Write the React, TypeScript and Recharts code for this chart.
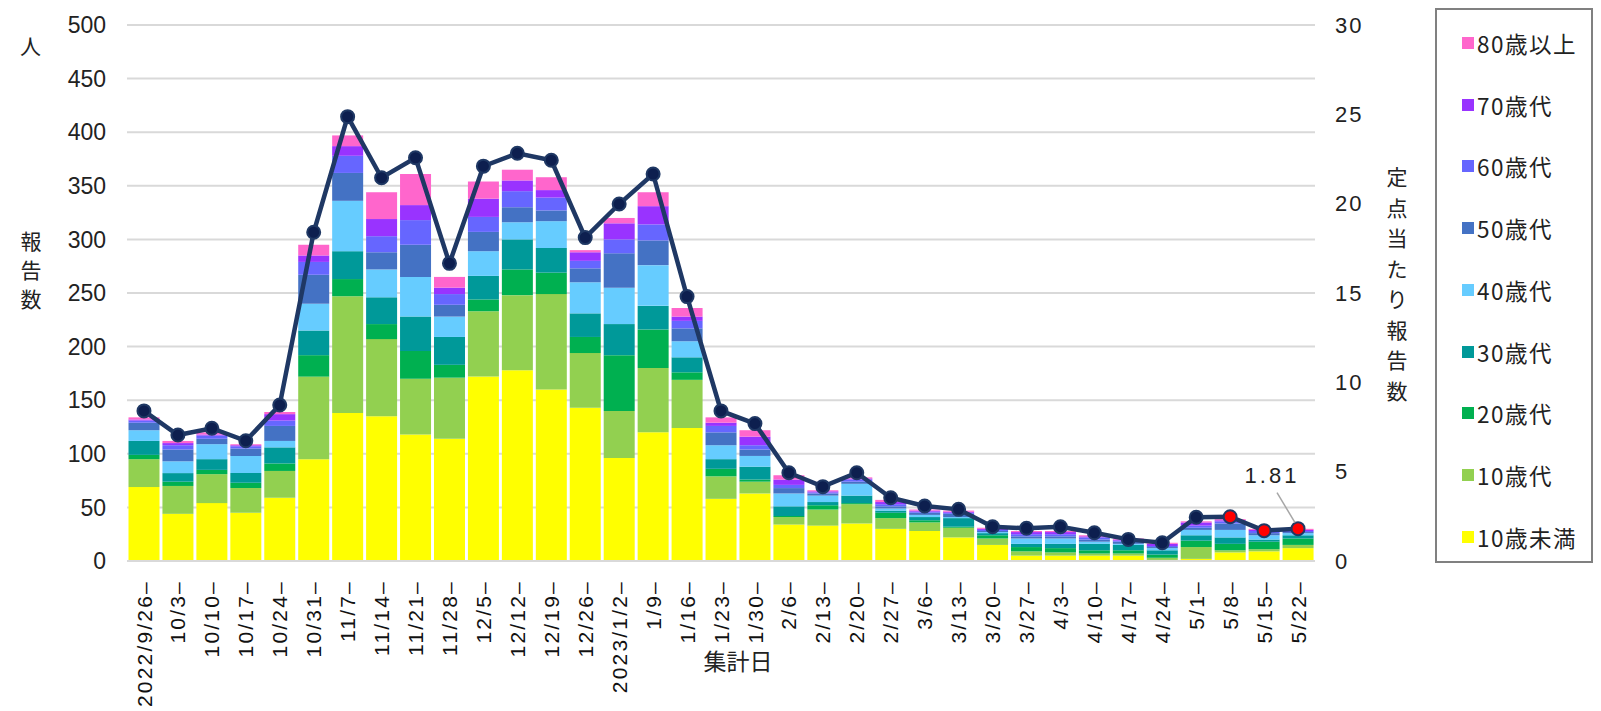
import { Bar, CartesianGrid, ComposedChart, LabelList, Line, XAxis, YAxis } from "recharts";

const dates = [
  "2022/9/26–", "10/3–", "10/10–", "10/17–", "10/24–", "10/31–", "11/7–", "11/14–", "11/21–",
  "11/28–", "12/5–", "12/12–", "12/19–", "12/26–", "2023/1/2–", "1/9–", "1/16–", "1/23–",
  "1/30–", "2/6–", "2/13–", "2/20–", "2/27–", "3/6–", "3/13–", "3/20–", "3/27–", "4/3–",
  "4/10–", "4/17–", "4/24–", "5/1–", "5/8–", "5/15–", "5/22–",
];

const under10 = [69, 44, 54, 45, 59, 95, 138, 135, 118, 114, 172, 178, 160, 143, 96, 120, 124, 58, 63, 34, 33, 35, 30, 28, 22, 15, 5, 5, 5, 5, 1, 2, 8, 9, 12];
const teens = [26, 26, 27, 23, 25, 77, 109, 72, 52, 57, 61, 70, 89, 51, 44, 60, 45, 21, 11, 7, 15, 18, 10, 8, 9, 6, 4, 3, 2, 2, 2, 11, 2, 2, 3];
const twenties = [4, 4, 4, 5, 7, 20, 16, 14, 26, 12, 11, 24, 20, 15, 52, 36, 7, 7, 2, 1, 4, 1, 5, 2, 1, 3, 4, 4, 3, 3, 3, 6, 6, 7, 6];
const thirties = [13, 8, 10, 9, 15, 23, 26, 25, 32, 26, 22, 28, 23, 22, 29, 22, 14, 9, 12, 9, 3, 7, 2, 3, 8, 2, 3, 4, 6, 5, 4, 5, 6, 2, 3];
const forties = [10, 11, 14, 16, 6, 25, 47, 26, 37, 19, 23, 16, 25, 29, 34, 38, 15, 13, 10, 12, 6, 11, 2, 2, 1, 1, 5, 5, 2, 1, 2, 5, 7, 4, 2];
const fifties = [7, 11, 5, 7, 14, 27, 26, 16, 30, 11, 18, 14, 10, 13, 32, 23, 12, 12, 6, 5, 2, 2, 2, 2, 3, 1, 2, 2, 2, 2, 1, 2, 6, 2, 1];
const sixties = [2, 4, 3, 2, 5, 12, 16, 15, 23, 10, 14, 15, 12, 7, 13, 15, 7, 6, 4, 3, 1, 2, 2, 1, 1, 1, 2, 2, 2, 1, 1, 2, 2, 2, 1];
const seventies = [1, 2, 1, 1, 6, 6, 9, 16, 14, 6, 17, 10, 7, 8, 15, 17, 4, 3, 8, 5, 1, 1, 2, 1, 1, 1, 2, 2, 1, 1, 2, 3, 1, 1, 1];
const eighties = [2, 2, 2, 1, 2, 10, 10, 25, 29, 10, 16, 10, 12, 2, 5, 13, 8, 5, 6, 4, 1, 1, 2, 1, 1, 1, 1, 1, 1, 1, 1, 1, 1, 1, 1];

// 定点当たり報告数 (right axis)
const perSentinel = [8.4, 7.05, 7.43, 6.73, 8.73, 18.4, 24.87, 21.45, 22.57, 16.66, 22.1, 22.82, 22.43, 18.1, 19.98, 21.66, 14.8, 8.4, 7.69, 4.94, 4.16, 4.94, 3.54, 3.08, 2.89, 1.92, 1.83, 1.92, 1.58, 1.21, 1.02, 2.45, 2.48, 1.7, 1.81];

const leftTicks = [0, 50, 100, 150, 200, 250, 300, 350, 400, 450, 500];
const rightTicks = [0, 5, 10, 15, 20, 25, 30];

const groups = [
  { key: "u10", name: "10歳未満", color: "#FFFF00", values: under10 },
  { key: "a10", name: "10歳代", color: "#92D050", values: teens },
  { key: "a20", name: "20歳代", color: "#00B050", values: twenties },
  { key: "a30", name: "30歳代", color: "#009999", values: thirties },
  { key: "a40", name: "40歳代", color: "#66CCFF", values: forties },
  { key: "a50", name: "50歳代", color: "#4472C4", values: fifties },
  { key: "a60", name: "60歳代", color: "#6666FF", values: sixties },
  { key: "a70", name: "70歳代", color: "#9933FF", values: seventies },
  { key: "a80", name: "80歳以上", color: "#FF66CC", values: eighties },
];

const data = dates.map((date, i) => {
  const row: any = { date, rate: perSentinel[i] };
  groups.forEach((g) => (row[g.key] = g.values[i]));
  return row;
});

const numFont = "'Liberation Sans', Arial, sans-serif";
const jpFont = "'Noto Sans CJK JP', sans-serif";

function DateTick({ x, y, payload }: any) {
  return (
    <g transform={`translate(${x},${y})`}>
      <text
        transform="rotate(-90)"
        textAnchor="end"
        dy="0.36em"
        fontSize={21}
        fontFamily={numFont}
        fill="#111"
        style={{ letterSpacing: "2.2px" }}
      >
        {payload.value}
      </text>
    </g>
  );
}

function RateDot(props: any) {
  const { cx, cy, index } = props;
  const red = index >= 32;
  return (
    <circle
      key={"dot-" + index}
      cx={cx}
      cy={cy}
      r={6.5}
      fill={red ? "#FF0000" : "#0D1F4F"}
      stroke="#1F3864"
      strokeWidth={2}
    />
  );
}

function LastLabel(props: any) {
  const { x, y, index, value } = props;
  if (index !== dates.length - 1) return null;
  return (
    <g>
      <line x1={x - 21} y1={y - 36} x2={x - 3} y2={y - 6} stroke="#A6A6A6" strokeWidth={1.5} />
      <text
        x={x - 26}
        y={y - 46}
        textAnchor="middle"
        fontSize={22}
        fontFamily={numFont}
        fill="#222"
        style={{ letterSpacing: "3px" }}
      >
        {Number(value).toFixed(2)}
      </text>
    </g>
  );
}

function VerticalText({ text, left, top, pitch }: { text: string; left: number; top: number; pitch: number }) {
  return (
    <div style={{ position: "absolute", left, top, width: 30, fontFamily: jpFont, fontSize: 21, color: "#222" }}>
      {text.split("").map((c, i) => (
        <div key={i} style={{ height: pitch, lineHeight: pitch + "px", textAlign: "center" }}>
          {c}
        </div>
      ))}
    </div>
  );
}

export default function App() {
  const legendItems = [...groups].reverse();
  return (
    <div style={{ position: "absolute", left: 0, top: 0, width: 1601, height: 711, background: "#fff" }}>
      <ComposedChart
        width={1601}
        height={711}
        data={data}
        margin={{ top: 25, right: 226, bottom: 0, left: 0 }}
        barCategoryGap={1.5}
      >
        <CartesianGrid yAxisId="left" vertical={false} stroke="#D9D9D9" strokeWidth={2} />
        <XAxis
          dataKey="date"
          height={150}
          interval={0}
          tickLine={false}
          axisLine={{ stroke: "#D9D9D9", strokeWidth: 2 }}
          tick={<DateTick />}
          tickMargin={13}
        />
        <YAxis
          yAxisId="left"
          width={127}
          domain={[0, 500]}
          ticks={leftTicks}
          axisLine={false}
          tickLine={false}
          tickMargin={15}
          tick={{ fontSize: 23, fontFamily: numFont, fill: "#222" }}
        />
        <YAxis
          yAxisId="right"
          orientation="right"
          width={60}
          domain={[0, 30]}
          ticks={rightTicks}
          axisLine={false}
          tickLine={false}
          tickMargin={14}
          tick={{ fontSize: 22, fontFamily: numFont, fill: "#222", style: { letterSpacing: "2px" } }}
        />
        {groups.map((g) => (
          <Bar
            key={g.key}
            yAxisId="left"
            dataKey={g.key}
            name={g.name}
            stackId="age"
            fill={g.color}
            isAnimationActive={false}
          />
        ))}
        <Line
          yAxisId="right"
          dataKey="rate"
          name="定点当たり報告数"
          type="linear"
          stroke="#1F3864"
          strokeWidth={4.5}
          dot={RateDot}
          activeDot={false}
          isAnimationActive={false}
        >
          <LabelList dataKey="rate" content={LastLabel} />
        </Line>
      </ComposedChart>

      <div style={{ position: "absolute", left: 20, top: 30, fontFamily: jpFont, fontSize: 21, color: "#222" }}>人</div>
      <VerticalText text="報告数" left={16} top={226} pitch={29} />
      <VerticalText text="定点当たり報告数" left={1382} top={161} pitch={30.5} />
      <div
        style={{
          position: "absolute",
          left: 738,
          top: 660,
          transform: "translate(-50%, -50%)",
          fontFamily: jpFont,
          fontSize: 23,
          color: "#222",
        }}
      >
        集計日
      </div>

      <div
        style={{
          position: "absolute",
          left: 1435,
          top: 8,
          width: 158,
          height: 555,
          border: "2px solid #808080",
          boxSizing: "border-box",
        }}
      >
        {legendItems.map((g, i) => (
          <div
            key={g.key}
            style={{
              position: "absolute",
              left: 25,
              top: 33 + i * 61.7 - 15,
              height: 30,
              display: "flex",
              alignItems: "center",
              fontFamily: jpFont,
              fontSize: 22.5,
              letterSpacing: "1.5px",
              color: "#222",
              whiteSpace: "nowrap",
            }}
          >
            <span style={{ display: "inline-block", width: 12, height: 12, background: g.color, marginRight: 3 }} />
            {g.name}
          </div>
        ))}
      </div>
    </div>
  );
}
